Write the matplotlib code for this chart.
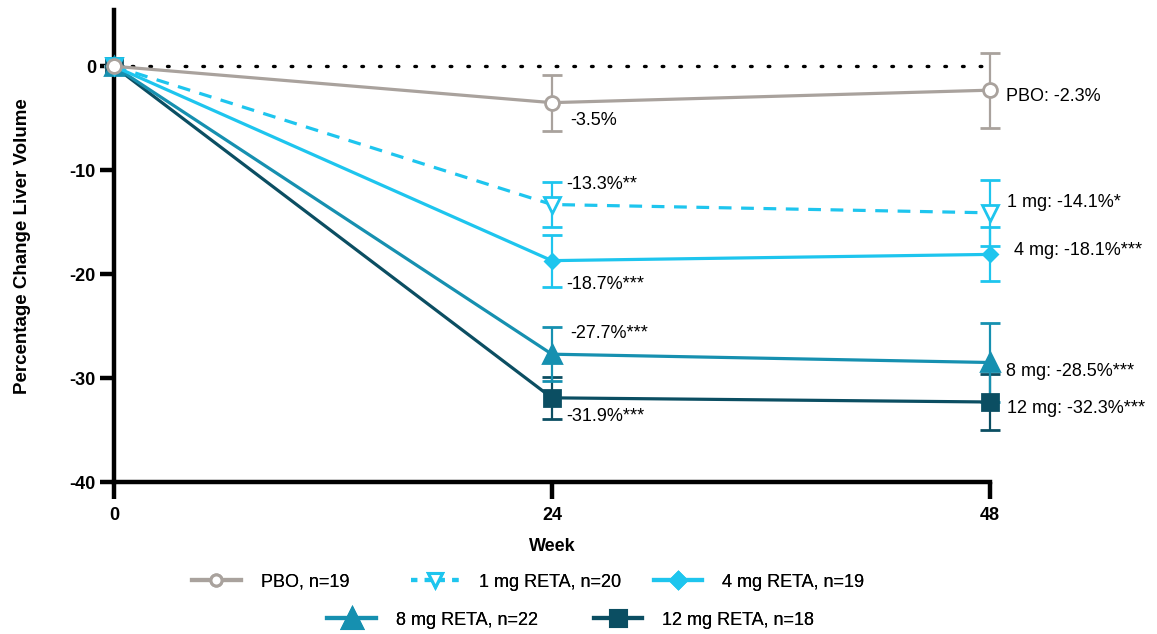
import matplotlib.pyplot as plt
from matplotlib.lines import Line2D

plt.rcParams['font.family'] = ['Liberation Sans', 'DejaVu Sans']
plt.rcParams['axes.unicode_minus'] = False

weeks = [0, 24, 48]
pbo = [0, -3.5, -2.3]
pbo_err = [0, 2.7, 3.6]
mg1 = [0, -13.3, -14.1]
mg1_err = [0, 2.2, 3.2]
mg4 = [0, -18.7, -18.1]
mg4_err = [0, 2.5, 2.6]
mg8 = [0, -27.7, -28.5]
mg8_err = [0, 2.6, 3.8]
mg12 = [0, -31.9, -32.3]
mg12_err = [0, 2.0, 2.7]

legend_labels = ['PBO, n=19', '1 mg RETA, n=20', '4 mg RETA, n=19',
                 '8 mg RETA, n=22', '12 mg RETA, n=18']
wk24_labels = ['-3.5%', '-13.3%**', '-18.7%***', '-27.7%***', '-31.9%***']
wk48_labels = ['PBO: -2.3%', '1 mg: -14.1%*', '4 mg: -18.1%***',
               '8 mg: -28.5%***', '12 mg: -32.3%***']

grey = '#a9a29d'
cyan = '#1ec5ee'
teal = '#1690b0'
dark = '#0b4e62'

fig = plt.figure(figsize=(11.57, 6.34), dpi=100)
ax = fig.add_axes([0.0985, 0.2397, 0.757, 0.7443])

ax.plot([0, 48], [0, 0], color='black', ls=(0, (0.5, 4.8)), lw=2.4,
        dash_capstyle='round', zorder=1)

# series, drawn bottom to top
series = [
    (mg12, mg12_err, dark, 's', dark, 11, '-'),
    (mg8, mg8_err, teal, '^', teal, 13, '-'),
    (mg4, mg4_err, cyan, 'D', cyan, 7, '-'),
    (mg1, mg1_err, cyan, 'v', 'white', 11, (0, (4, 3))),
    (pbo, pbo_err, grey, 'o', 'white', 10, '-'),
]
for vals, err, col, mk, fc, ms, ls in series:
    cont = ax.errorbar(weeks, vals, yerr=err, color=col, lw=2.3, ls=ls,
                       marker=mk, ms=ms, mfc=fc, mec=col, mew=2,
                       elinewidth=1.6, capsize=7, capthick=1.6, zorder=3)
    for art in cont.get_children():
        art.set_clip_on(False)

lab_y24 = [-5.2, -11.4, -21.0, -25.7, -33.7]
lab_x24 = [25.0, 24.8, 24.8, 25.0, 24.8]
for t, x, y in zip(wk24_labels, lab_x24, lab_y24):
    ax.text(x, y, t, fontsize=13, va='center', ha='left', clip_on=False)

lab_y48 = [-2.9, -13.1, -17.7, -29.4, -32.9]
lab_x48 = [48.9, 48.95, 49.3, 48.9, 48.95]
for t, x, y in zip(wk48_labels, lab_x48, lab_y48):
    ax.text(x, y, t, fontsize=13, va='center', ha='left', clip_on=False)

ax.set_xlim(0, 48)
ax.set_ylim(-40, 5.4)
ax.set_xticks([0, 24, 48])
ax.set_yticks([0, -10, -20, -30, -40])
ax.spines['top'].set_visible(False)
ax.spines['right'].set_visible(False)
for s in ['left', 'bottom']:
    ax.spines[s].set_linewidth(3.2)
ax.tick_params(axis='x', width=3.2, length=12, labelsize=13, pad=6)
ax.tick_params(axis='y', width=3.2, length=10, labelsize=13, pad=3)
for lb in ax.get_xticklabels() + ax.get_yticklabels():
    lb.set_fontweight('bold')
ax.set_xlabel('Week', fontsize=13, fontweight='bold', labelpad=10)
ax.set_ylabel('Percentage Change Liver Volume', fontsize=13.5,
              fontweight='bold', labelpad=28)


def h(col, mk, fc, ms, ls='-'):
    return Line2D([], [], color=col, lw=3, ls=ls, marker=mk, ms=ms,
                  mfc=fc, mec=col, mew=2.2)


handles = [h(grey, 'o', 'white', 8), h(cyan, 'v', 'white', 10, (0, (1.5, 1.8))),
           h(cyan, 'D', cyan, 8), h(teal, '^', teal, 15), h(dark, 's', dark, 12)]
# left edge of each legend entry (figure fraction) and row height
entry_x = [0.166, 0.355, 0.565, 0.283, 0.513]
entry_y = [0.082, 0.082, 0.082, 0.022, 0.022]
for hd, lab, ex, ey in zip(handles, legend_labels, entry_x, entry_y):
    lg = fig.legend([hd], [lab], loc='center left', bbox_to_anchor=(ex, ey),
                    frameon=False, fontsize=13, handlelength=2.7,
                    handletextpad=1.1, borderpad=0, borderaxespad=0)
    fig.add_artist(lg)

fig.savefig('out.png', dpi=100)
